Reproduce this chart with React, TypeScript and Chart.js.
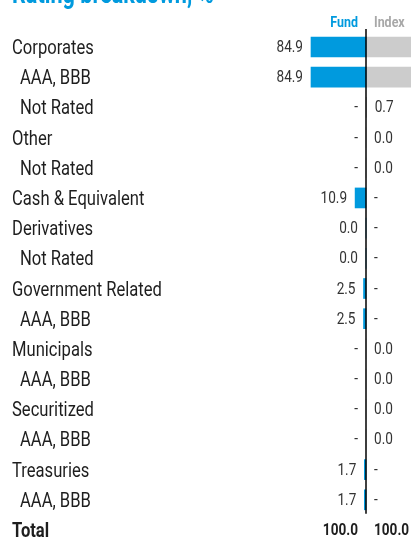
import React, { useEffect, useRef } from "react";
import { Chart, registerables } from "chart.js";

Chart.register(...registerables);

const TITLE = "Rating breakdown, %";
const SERIES_NAMES = ["Fund", "Index"];
const CATEGORIES = [
  "Corporates",
  "AAA, BBB",
  "Not Rated",
  "Other",
  "Not Rated",
  "Cash & Equivalent",
  "Derivatives",
  "Not Rated",
  "Government Related",
  "AAA, BBB",
  "Municipals",
  "AAA, BBB",
  "Securitized",
  "AAA, BBB",
  "Treasuries",
  "AAA, BBB",
  "Total",
];
const INDENT = [0, 1, 1, 0, 1, 0, 0, 1, 0, 1, 0, 1, 0, 1, 0, 1, 0];
const FUND_VALUES: (number | null)[] = [84.9, 84.9, null, null, null, 10.9, 0.0, 0.0, 2.5, 2.5, null, null, null, null, 1.7, 1.7, 100.0];
const INDEX_VALUES: (number | null)[] = [99.3, 99.3, 0.7, 0.0, 0.0, null, null, null, null, null, 0.0, 0.0, 0.0, 0.0, null, null, 100.0];

const BLUE = "#009ADE";
const GREY_BAR = "#CCCCCC";
const GREY_HEAD = "#A8A8A8";
const TEXT = "#1E1E1E";
const VAL_TEXT = "#333333";
const FONT = "Roboto, 'Noto Sans', sans-serif";
const FUND_CLIP = 55;

const W = 411;
const H = 538;

function drawText(ctx: CanvasRenderingContext2D, text: string, x: number, y: number, align: CanvasTextAlign, squeeze: number) {
  ctx.save();
  ctx.translate(x, y);
  ctx.scale(squeeze, 1);
  ctx.textAlign = align;
  ctx.fillText(text, 0, 0);
  ctx.restore();
}

export default function App() {
  const ref = useRef<HTMLCanvasElement | null>(null);

  useEffect(() => {
    const canvas = ref.current;
    if (!canvas) return;
    const last = CATEGORIES.length - 1;

    const overlay = {
      id: "overlay",
      afterDatasetsDraw(chart: any) {
        const ctx = chart.ctx as CanvasRenderingContext2D;
        const xs = chart.scales.x;
        const ys = chart.scales.y;
        const zero = xs.getPixelForValue(0);
        ctx.save();
        // title
        ctx.fillStyle = BLUE;
        ctx.font = `bold 27px ${FONT}`;
        ctx.textBaseline = "alphabetic";
        drawText(ctx, TITLE, 12, 3, "left", 0.8);
        // headers
        ctx.font = `bold 15px ${FONT}`;
        ctx.fillStyle = BLUE;
        drawText(ctx, SERIES_NAMES[0], zero - 8, 27, "right", 0.83);
        ctx.fillStyle = GREY_HEAD;
        drawText(ctx, SERIES_NAMES[1], zero + 8, 27, "left", 0.83);
        // vertical line
        ctx.strokeStyle = "#000";
        ctx.lineWidth = 1.5;
        ctx.beginPath();
        ctx.moveTo(zero, 29);
        ctx.lineTo(zero, ys.getPixelForValue(last - 1) + 14);
        ctx.stroke();
        // rows
        ctx.textBaseline = "middle";
        CATEGORIES.forEach((name, i) => {
          const y = ys.getPixelForValue(i);
          const isTotal = i === last;
          ctx.fillStyle = TEXT;
          ctx.font = `${isTotal ? "bold " : ""}20px ${FONT}`;
          drawText(ctx, name, INDENT[i] ? 20 : 12, y + 2, "left", 0.83);
          ctx.fillStyle = isTotal ? TEXT : VAL_TEXT;
          ctx.font = `${isTotal ? "bold " : ""}16px ${FONT}`;
          const f = FUND_VALUES[i];
          const fx = isTotal || f === null ? zero - 8 : xs.getPixelForValue(-Math.min(f, FUND_CLIP)) - 8;
          drawText(ctx, f === null ? "-" : f.toFixed(1), fx, y + 1, "right", 0.85);
          const v = INDEX_VALUES[i];
          const ix = isTotal || v === null ? zero + 8 : xs.getPixelForValue(v) + 8;
          drawText(ctx, v === null ? "-" : v.toFixed(1), ix, y + 1, "left", 0.85);
        });
        ctx.restore();
      },
    };

    const chart = new Chart(canvas, {
      type: "bar",
      data: {
        labels: CATEGORIES,
        datasets: [
          {
            label: SERIES_NAMES[0],
            data: FUND_VALUES.map((v, i) => (v === null || i === last ? null : [-Math.min(v, FUND_CLIP), 0])) as any,
            backgroundColor: BLUE,
            barThickness: 20,
            grouped: false,
            clip: false,
          } as any,
          {
            label: SERIES_NAMES[1],
            data: INDEX_VALUES.map((v, i) => (v === null || i === last ? null : [0, v])) as any,
            backgroundColor: GREY_BAR,
            barThickness: 20,
            grouped: false,
            clip: false,
          } as any,
        ],
      },
      options: {
        indexAxis: "y",
        responsive: false,
        animation: false,
        devicePixelRatio: 1,
        layout: { padding: { left: 0, right: 0, top: 47, bottom: 8 } },
        plugins: { legend: { display: false }, tooltip: { enabled: false }, title: { display: false } },
        scales: {
          x: { type: "linear", min: -366, max: 45, display: false },
          y: { type: "category", offset: false, display: false, grid: { display: false } },
        },
      },
      plugins: [overlay],
    });
    return () => chart.destroy();
  }, []);

  return (
    <div style={{ position: "fixed", left: 0, top: 0, width: W, height: H, overflow: "hidden", background: "#fff" }}>
      <canvas ref={ref} width={W} height={H} style={{ display: "block", width: W, height: H }} />
    </div>
  );
}
